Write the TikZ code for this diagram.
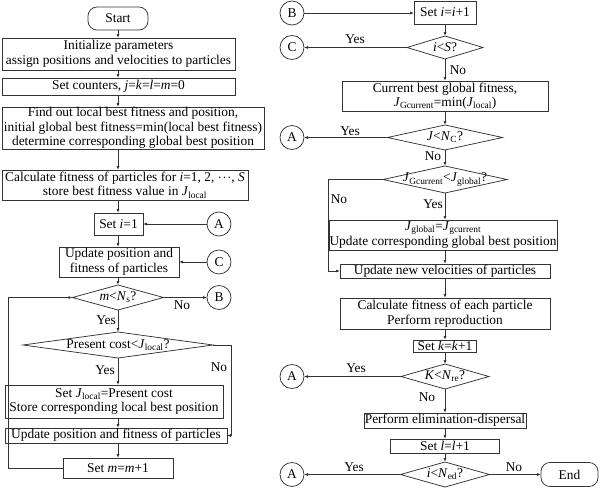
\documentclass[tikz,border=0pt]{standalone}
\usepackage{fontspec}
\setmainfont{Liberation Serif}
\usetikzlibrary{arrows.meta,shapes.geometric}
\newcommand\vi[1]{\textit{#1}}
\newcommand\sbs[1]{\textsubscript{#1}}
\begin{document}
\begin{tikzpicture}[x=1pt,y=-1pt,
 every node/.style={font=\fontsize{13.4}{14.5}\selectfont},
 bx/.style={draw=black!80, line width=0.75pt, inner sep=0.5pt, outer sep=0pt, align=center, anchor=north west},
 term/.style={bx, rounded corners=9pt},
 dia/.style={diamond, draw=black!80, line width=0.75pt, inner sep=0pt, outer sep=0pt, aspect=1},
 con/.style={circle, draw=black!80, line width=0.75pt, minimum size=24pt, inner sep=0pt, outer sep=0pt},
 arr/.style={draw=black!80, line width=0.75pt, -{Latex[length=4pt,width=3pt]}},
 lbl/.style={inner sep=0pt}]
\useasboundingbox (0,0) rectangle (600,488);
\coordinate (colL) at (118,0);
\coordinate (colR) at (445,0);
\coordinate (rL) at (231,0);
\coordinate (lL) at (8,0);
\coordinate (lR) at (328,0);
% left column
\node[term, minimum width=60, minimum height=23] (start) at (88,7) {Start};
\node[bx, minimum width=233, minimum height=32] (init) at (2,38) {Initialize parameters\\assign positions and velocities to particles};
\node[bx, minimum width=233, minimum height=17] (cnt) at (2,78) {Set counters, \vi{j}=\vi{k}=\vi{l}=\vi{m}=0};
\node[bx, minimum width=262, minimum height=40] (find) at (2,107) {Find out local best fitness and position,\\initial global best fitness=min(local best fitness)\\determine corresponding global best position};
\node[bx, minimum width=246, minimum height=30] (calc) at (2,170) {Calculate fitness of particles for \vi{i}=1, 2, $\cdot\!\cdot\!\cdot$, \vi{S}\\store best fitness value in \vi{J}\sbs{local}};
\node[bx, minimum width=49, minimum height=22] (seti) at (94,213) {Set \vi{i}=1};
\node[bx, minimum width=120, minimum height=30] (upd1) at (59,247) {Update position and\\fitness of particles};
\node[dia, minimum width=91, minimum height=25] (d1) at (118,297.5) {\makebox[0pt]{\vi{m}<\vi{N}\sbs{s}?}};
\node[dia, minimum width=190, minimum height=26] (d2) at (118,345) {\makebox[0pt]{Present cost<\vi{J}\sbs{local}?}};
\node[bx, minimum width=218, minimum height=33] (setJ) at (5,385) {Set \vi{J}\sbs{local}=Present cost\\Store corresponding local best position};
\node[bx, minimum width=222, minimum height=15] (upd2) at (5,428) {Update position and fitness of particles};
\node[bx, minimum width=110, minimum height=20] (setm) at (63,458) {Set \vi{m}=\vi{m}+1};
\node[con] (A1) at (219,224) {A};
\node[con] (C1) at (219,262) {C};
\node[con] (B1) at (219,297.5) {B};
% right column
\node[bx, minimum width=62, minimum height=23] (seti2) at (414,1) {Set \vi{i}=\vi{i}+1};
\node[dia, minimum width=76, minimum height=23] (d3) at (445,47.5) {\makebox[0pt]{\vi{i}<\vi{S}?}};
\node[bx, minimum width=206, minimum height=30] (cur) at (342,81) {Current best global fitness,\\\vi{J}\sbs{Gcurrent}=min(\vi{J}\sbs{local})};
\node[dia, minimum width=115, minimum height=25] (d4) at (445,137.5) {\makebox[0pt]{\vi{J}<\vi{N}\sbs{C}?}};
\node[dia, minimum width=124, minimum height=27] (d5) at (445,179.5) {\makebox[0pt]{\vi{J}\sbs{Gcurrent}<\vi{J}\sbs{global}?}};
\node[bx, minimum width=224, minimum height=30] (glob) at (329,220) {\vi{J}\sbs{global}=\vi{J}\sbs{gcurrent}\\Update corresponding global best position};
\node[bx, minimum width=210, minimum height=14] (vel) at (340,264) {Update new velocities of particles};
\node[bx, minimum width=210, minimum height=31] (calc2) at (340,298) {Calculate fitness of each particle\\Perform reproduction};
\node[bx, minimum width=63, minimum height=12] (setk) at (413.5,340) {Set \vi{k}=\vi{k}+1};
\node[dia, minimum width=88, minimum height=25] (d6) at (445,376.5) {\makebox[0pt]{\vi{K}<\vi{N}\sbs{re}?}};
\node[bx, minimum width=162, minimum height=15] (elim) at (364,413) {Perform elimination-dispersal};
\node[bx, minimum width=109, minimum height=14] (setl) at (390.5,439) {Set \vi{l}=\vi{l}+1};
\node[dia, minimum width=89, minimum height=25] (d7) at (445,474.5) {\makebox[0pt]{\vi{i}<\vi{N}\sbs{ed}?}};
\node[term, minimum width=57, minimum height=24] (end) at (541,462.5) {End};
\node[con] (B2) at (292,13) {B};
\node[con] (C2) at (292,47.5) {C};
\node[con] (A2) at (292,137.5) {A};
\node[con] (A3) at (292,376.5) {A};
\node[con] (A4) at (292,474.5) {A};
% labels
\node[lbl] (n1) at (182,305) {No};
\node[lbl] (y1) at (106,320) {Yes};
\node[lbl] (y2) at (105,370) {Yes};
\node[lbl] (n2) at (219,367) {No};
\node[lbl] (y3) at (355,39) {Yes};
\node[lbl] (n3) at (458,70) {No};
\node[lbl] (y4) at (350,131) {Yes};
\node[lbl] (n4) at (433,156) {No};
\node[lbl] (n5) at (339,199) {No};
\node[lbl] (y5) at (433,204) {Yes};
\node[lbl] (y6) at (356,368) {Yes};
\node[lbl] (n6) at (427,397) {No};
\node[lbl] (y7) at (354,467) {Yes};
\node[lbl] (n7) at (514,467) {No};
% left connectors
\draw[arr] (start.south) -- (start.south |- init.north);
\draw[arr] (colL |- init.south) -- (colL |- cnt.north);
\draw[arr] (colL |- cnt.south) -- (colL |- find.north);
\draw[arr] (colL |- find.south) -- (colL |- calc.north);
\draw[arr] (colL |- calc.south) -- (colL |- seti.north);
\draw[arr] (colL |- seti.south) -- (colL |- upd1.north);
\draw[arr] (colL |- upd1.south) -- (d1.north);
\draw[arr] (d1.south) -- (d2.north);
\draw[arr] (d2.south) -- (colL |- setJ.north);
\draw[arr] (colL |- setJ.south) -- (colL |- upd2.north);
\draw[arr] (colL |- upd2.south) -- (colL |- setm.north);
\draw[arr] (A1.west) -- (A1.west -| seti.east);
\draw[arr] (C1.west) -- (C1.west -| upd1.east);
\draw[arr] (d1.east) -- (B1.west);
\draw[arr] (d2.east) -- (d2.east -| rL) -- (rL |- upd2.east) -- (upd2.east);
\draw[arr] (setm.west) -- (setm.west -| lL) -- (lL |- d1.west) -- (d1.west);
% right connectors
\draw[arr] (B2.east) -- (B2.east -| seti2.west);
\draw[arr] (colR |- seti2.south) -- (d3.north);
\draw[arr] (d3.west) -- (C2.east);
\draw[arr] (d3.south) -- (colR |- cur.north);
\draw[arr] (colR |- cur.south) -- (d4.north);
\draw[arr] (d4.west) -- (A2.east);
\draw[arr] (d4.south) -- (d5.north);
\draw[arr] (d5.south) -- (colR |- glob.north);
\draw[arr] (colR |- glob.south) -- (colR |- vel.north);
\draw[arr] (d5.west) -- (d5.west -| lR) -- (lR |- vel.west) -- (vel.west);
\draw[arr] (colR |- vel.south) -- (colR |- calc2.north);
\draw[arr] (colR |- calc2.south) -- (colR |- setk.north);
\draw[arr] (colR |- setk.south) -- (d6.north);
\draw[arr] (d6.west) -- (A3.east);
\draw[arr] (d6.south) -- (colR |- elim.north);
\draw[arr] (colR |- elim.south) -- (colR |- setl.north);
\draw[arr] (colR |- setl.south) -- (d7.north);
\draw[arr] (d7.west) -- (A4.east);
\draw[arr] (d7.east) -- (end.west);
\end{tikzpicture}
\end{document}
